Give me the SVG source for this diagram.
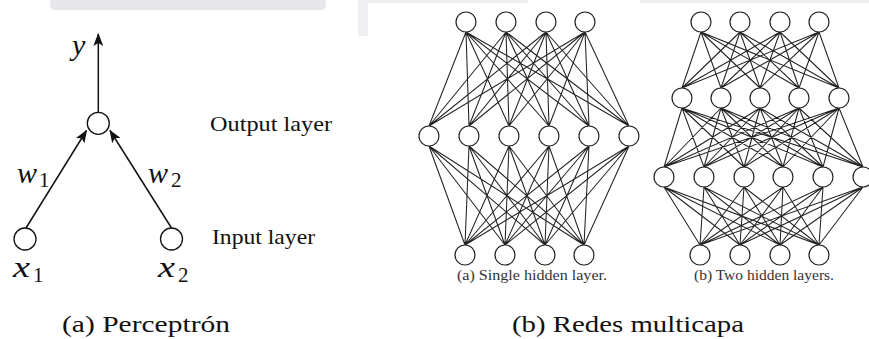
<svg xmlns="http://www.w3.org/2000/svg" width="869" height="339" viewBox="0 0 869 339">
<style>
.bg{fill:#ffffff}
.band{fill:#e6e6eb}
.band2{fill:#efeff2}
.pnode{fill:#ffffff;stroke:#111;stroke-width:1.3}
.nnode{fill:#ffffff;stroke:#222;stroke-width:1.2}
.arrow{stroke:#111;stroke-width:1.5;fill:none}
.edge{stroke:#222;stroke-width:1.05;fill:none}
text{font-family:'Liberation Serif','Times New Roman',Tinos,Times,serif;fill:#111}
.math{font-style:italic;font-size:30px}
.sub{font-size:21px}
.lbl{font-size:21px}
.cap{font-size:24px}
.ncap{font-size:15.5px;fill:#333}
</style>
<defs>
<marker id="head" viewBox="0 0 13 10" refX="12" refY="5" markerWidth="13" markerHeight="10" markerUnits="userSpaceOnUse" orient="auto">
<path d="M0,0 L13,5 L0,10 L3,5 z" fill="#111"/>
</marker>
</defs>
<rect class="bg" x="0" y="0" width="869" height="339"/>
<rect class="band" x="50" y="-6" width="276" height="16" rx="5"/>
<rect class="band2" x="358" y="-2" width="10" height="38"/>
<rect class="band2" x="358" y="-2" width="170" height="5"/>
<rect class="band2" x="640" y="-2" width="229" height="5"/>

<g id="connectors">
<path class="arrow" d="M98.3 112 L98.3 34" marker-end="url(#head)"/>
<path class="arrow" d="M26 228 L86.5 130.5" marker-end="url(#head)"/>
<path class="arrow" d="M171.5 228 L110 130.5" marker-end="url(#head)"/>
<path class="edge" d="M466 32L429 126M466 32L469 126M466 32L509 126M466 32L549 126M466 32L589 126M466 32L629 126M506 32L429 126M506 32L469 126M506 32L509 126M506 32L549 126M506 32L589 126M506 32L629 126M546 32L429 126M546 32L469 126M546 32L509 126M546 32L549 126M546 32L589 126M546 32L629 126M585 32L429 126M585 32L469 126M585 32L509 126M585 32L549 126M585 32L589 126M585 32L629 126"/>
<path class="edge" d="M429 146L465 245M429 146L505 245M429 146L545 245M429 146L584 245M469 146L465 245M469 146L505 245M469 146L545 245M469 146L584 245M509 146L465 245M509 146L505 245M509 146L545 245M509 146L584 245M549 146L465 245M549 146L505 245M549 146L545 245M549 146L584 245M589 146L465 245M589 146L505 245M589 146L545 245M589 146L584 245M629 146L465 245M629 146L505 245M629 146L545 245M629 146L584 245"/>
<path class="edge" d="M701 32L682 88M701 32L721 88M701 32L760 88M701 32L799 88M701 32L839 88M740 32L682 88M740 32L721 88M740 32L760 88M740 32L799 88M740 32L839 88M780 32L682 88M780 32L721 88M780 32L760 88M780 32L799 88M780 32L839 88M819 32L682 88M819 32L721 88M819 32L760 88M819 32L799 88M819 32L839 88"/>
<path class="edge" d="M682 108L664 167M682 108L704 167M682 108L744 167M682 108L783 167M682 108L823 167M682 108L863 167M721 108L664 167M721 108L704 167M721 108L744 167M721 108L783 167M721 108L823 167M721 108L863 167M760 108L664 167M760 108L704 167M760 108L744 167M760 108L783 167M760 108L823 167M760 108L863 167M799 108L664 167M799 108L704 167M799 108L744 167M799 108L783 167M799 108L823 167M799 108L863 167M839 108L664 167M839 108L704 167M839 108L744 167M839 108L783 167M839 108L823 167M839 108L863 167"/>
<path class="edge" d="M664 187L700 245M664 187L740 245M664 187L780 245M664 187L819 245M704 187L700 245M704 187L740 245M704 187L780 245M704 187L819 245M744 187L700 245M744 187L740 245M744 187L780 245M744 187L819 245M783 187L700 245M783 187L740 245M783 187L780 245M783 187L819 245M823 187L700 245M823 187L740 245M823 187L780 245M823 187L819 245M863 187L700 245M863 187L740 245M863 187L780 245M863 187L819 245"/>
</g>

<g id="perceptron">
<g id="p-out"><circle class="pnode" cx="98.3" cy="123.3" r="11"/></g>
<g id="p-x1"><circle class="pnode" cx="25" cy="239" r="11"/></g>
<g id="p-x2"><circle class="pnode" cx="171.5" cy="239" r="11"/></g>
<g id="p-y-label"><text class="math" x="72" y="55" font-size="27">y</text></g>
<g id="p-w1-label"><text class="math" x="17" y="183">w</text><text class="sub" x="39" y="187">1</text></g>
<g id="p-w2-label"><text class="math" x="148" y="183">w</text><text class="sub" x="171" y="187">2</text></g>
<g id="p-x1-label"><text class="math" x="13" y="277" textLength="17" lengthAdjust="spacingAndGlyphs">x</text><text class="sub" x="33" y="282">1</text></g>
<g id="p-x2-label"><text class="math" x="158" y="277" textLength="17" lengthAdjust="spacingAndGlyphs">x</text><text class="sub" x="178" y="282">2</text></g>
<g id="p-output-layer"><text class="lbl" x="210" y="131" textLength="122" lengthAdjust="spacingAndGlyphs">Output layer</text></g>
<g id="p-input-layer"><text class="lbl" x="212" y="244" textLength="103" lengthAdjust="spacingAndGlyphs">Input layer</text></g>
</g>

<g id="net-a">
<g id="a-t1"><circle class="nnode" cx="466" cy="22" r="10"/></g>
<g id="a-t2"><circle class="nnode" cx="506" cy="22" r="10"/></g>
<g id="a-t3"><circle class="nnode" cx="546" cy="22" r="10"/></g>
<g id="a-t4"><circle class="nnode" cx="585" cy="22" r="10"/></g>
<g id="a-m1"><circle class="nnode" cx="429" cy="136" r="10"/></g>
<g id="a-m2"><circle class="nnode" cx="469" cy="136" r="10"/></g>
<g id="a-m3"><circle class="nnode" cx="509" cy="136" r="10"/></g>
<g id="a-m4"><circle class="nnode" cx="549" cy="136" r="10"/></g>
<g id="a-m5"><circle class="nnode" cx="589" cy="136" r="10"/></g>
<g id="a-m6"><circle class="nnode" cx="629" cy="136" r="10"/></g>
<g id="a-b1"><circle class="nnode" cx="465" cy="255" r="10"/></g>
<g id="a-b2"><circle class="nnode" cx="505" cy="255" r="10"/></g>
<g id="a-b3"><circle class="nnode" cx="545" cy="255" r="10"/></g>
<g id="a-b4"><circle class="nnode" cx="584" cy="255" r="10"/></g>
<g id="a-caption"><text class="ncap" x="457" y="280" textLength="150" lengthAdjust="spacingAndGlyphs">(a) Single hidden layer.</text></g>
</g>

<g id="net-b">
<g id="b-t1"><circle class="nnode" cx="701" cy="22" r="10"/></g>
<g id="b-t2"><circle class="nnode" cx="740" cy="22" r="10"/></g>
<g id="b-t3"><circle class="nnode" cx="780" cy="22" r="10"/></g>
<g id="b-t4"><circle class="nnode" cx="819" cy="22" r="10"/></g>
<g id="b-h1"><circle class="nnode" cx="682" cy="98" r="10"/></g>
<g id="b-h2"><circle class="nnode" cx="721" cy="98" r="10"/></g>
<g id="b-h3"><circle class="nnode" cx="760" cy="98" r="10"/></g>
<g id="b-h4"><circle class="nnode" cx="799" cy="98" r="10"/></g>
<g id="b-h5"><circle class="nnode" cx="839" cy="98" r="10"/></g>
<g id="b-g1"><circle class="nnode" cx="664" cy="177" r="10"/></g>
<g id="b-g2"><circle class="nnode" cx="704" cy="177" r="10"/></g>
<g id="b-g3"><circle class="nnode" cx="744" cy="177" r="10"/></g>
<g id="b-g4"><circle class="nnode" cx="783" cy="177" r="10"/></g>
<g id="b-g5"><circle class="nnode" cx="823" cy="177" r="10"/></g>
<g id="b-g6"><circle class="nnode" cx="863" cy="177" r="10"/></g>
<g id="b-b1"><circle class="nnode" cx="700" cy="255" r="10"/></g>
<g id="b-b2"><circle class="nnode" cx="740" cy="255" r="10"/></g>
<g id="b-b3"><circle class="nnode" cx="780" cy="255" r="10"/></g>
<g id="b-b4"><circle class="nnode" cx="819" cy="255" r="10"/></g>
<g id="b-caption"><text class="ncap" x="694" y="280" textLength="140" lengthAdjust="spacingAndGlyphs">(b) Two hidden layers.</text></g>
</g>

<g id="captions">
<text class="cap" x="62" y="332" textLength="168" lengthAdjust="spacingAndGlyphs">(a) Perceptrón</text>
<text class="cap" x="512" y="332" textLength="232" lengthAdjust="spacingAndGlyphs">(b) Redes multicapa</text>
</g>
</svg>
